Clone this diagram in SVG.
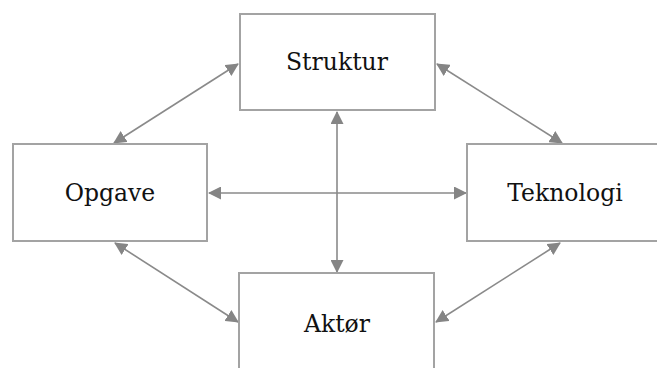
<svg xmlns="http://www.w3.org/2000/svg" width="657" height="368" viewBox="0 0 657 368">
  <style>
    .box { fill: #ffffff; stroke: #a3a3a3; stroke-width: 2; }
    .label { font-family: "DejaVu Serif", "Liberation Serif", serif; font-size: 23.5px; fill: #111111; text-anchor: middle; }
    .link { stroke: #8a8a8a; stroke-width: 1.6; fill: none; marker-start: url(#tip); marker-end: url(#tip); }
  </style>
  <defs>
    <marker id="tip" viewBox="0 0 13 13" refX="12" refY="6.5" markerWidth="13" markerHeight="13" markerUnits="userSpaceOnUse" orient="auto-start-reverse">
      <path d="M0,0 L13,6.5 L0,13 Z" fill="#858585"/>
    </marker>
  </defs>

  <g id="connectors">
    <line class="link" x1="337" y1="272" x2="337" y2="112"/>
    <line class="link" x1="209" y1="193" x2="466" y2="193"/>
    <line class="link" x1="114" y1="143" x2="238" y2="64"/>
    <line class="link" x1="562" y1="143" x2="437" y2="64"/>
    <line class="link" x1="115" y1="243" x2="238" y2="322"/>
    <line class="link" x1="560" y1="243" x2="436" y2="322"/>
  </g>

  <g id="struktur">
    <rect class="box" x="240" y="14" width="195" height="96"/>
    <text class="label" x="337" y="70">Struktur</text>
  </g>
  <g id="opgave">
    <rect class="box" x="13" y="144" width="194" height="97"/>
    <text class="label" x="110" y="201">Opgave</text>
  </g>
  <g id="teknologi">
    <rect class="box" x="467" y="144" width="200" height="97"/>
    <text class="label" x="565" y="201">Teknologi</text>
  </g>
  <g id="aktor">
    <rect class="box" x="239" y="273" width="195" height="110"/>
    <text class="label" x="337" y="332">Aktør</text>
  </g>
</svg>
